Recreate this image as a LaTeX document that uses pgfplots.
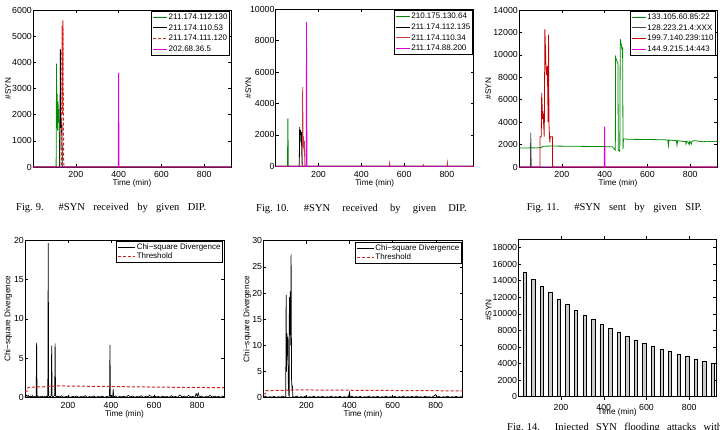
\documentclass[border=0pt]{standalone}
\usepackage{pgfplots}
\pgfplotsset{compat=1.18}
\usepackage{fontspec}
\setmainfont{Liberation Sans}
\newfontfamily\capfont{Liberation Serif}

\definecolor{mgreen}{RGB}{0,140,0}
\definecolor{mmag}{RGB}{220,0,220}
\definecolor{mred}{RGB}{220,30,30}
\definecolor{mbrick}{RGB}{200,60,60}
\definecolor{mdark}{RGB}{200,0,0}
\definecolor{mgray}{RGB}{70,70,70}

\pgfplotsset{
  mlab/.style={
    scale only axis, width=198pt, height=157pt,
    xmin=0, xmax=925, xtick={200,400,600,800},
    tick align=inside, major tick length=3pt,
    axis line style={line width=0.7pt},
    every tick/.style={black, line width=0.5pt},
    tick label style={font=\fontsize{8.8}{9}\selectfont},
    /pgf/number format/assume math mode=true,
    /pgf/number format/1000 sep={},
    scaled y ticks=false,
    xticklabel style={yshift=-1.2pt},
    yticklabel style={inner xsep=1pt},
    label style={font=\fontsize{8.2}{9}\selectfont},
    xlabel={Time (min)},
    clip=false,
    legend cell align=left,
    legend style={at={(1,1)}, anchor=north east, xshift=-1pt, yshift=-1pt,
      draw=black, line width=0.8pt, font=\fontsize{8}{9}\selectfont,
      inner xsep=1pt, inner ysep=1pt, row sep=1.2pt,
      nodes={inner sep=1pt, text height=6pt, text depth=1.5pt}},
    legend image code/.code={\draw[#1] (0pt,0pt) -- (14pt,0pt);},
  },
}
\tikzset{figcap/.style={anchor=base west, inner sep=0pt, font=\capfont\fontsize{10.5}{12}\selectfont}}

\begin{document}
\begin{tikzpicture}
\useasboundingbox (0pt,0pt) rectangle (720pt,-429pt);

% Fig. 9: SYN received by destination IP
\begin{axis}[mlab, at={(33pt,-10pt)}, anchor=north west,
  ymin=0, ymax=6000, ytick={0,1000,...,6000},
  ylabel={\#SYN},
  ylabel style={at={(axis description cs:-0.126,0.5)}, anchor=center},
  xlabel style={at={(axis description cs:0.5,-0.106)}, anchor=center}]
\addplot[mgreen, line width=0.8pt] coordinates {(0,0)(108,0)(110,3950)(111,1500)(113,2800)(115,1400)(117,2500)(119,1700)(121,2200)(123,1400)(125,0)(925,0)};
\addlegendentry{211.174.112.130}
\addplot[black, line width=0.8pt] coordinates {(0,0)(125,0)(128,4500)(130,1500)(132,1800)(134,1200)(135,1600)(137,0)(925,0)};
\addlegendentry{211.174.110.53}
\addplot[mred, line width=1pt, dash pattern=on 3pt off 2pt] coordinates {(0,0)(133,0)(136,5400)(138,2000)(140,5600)(142,1500)(144,0)(925,0)};
\addlegendentry{211.174.111.120}
\addplot[mmag, line width=0.8pt] coordinates {(0,0)(398,0)(400,3600)(402,0)(925,0)};
\addlegendentry{202.68.36.5}
\end{axis}

% Fig. 10
\begin{axis}[mlab, at={(275.7pt,-9.3pt)}, anchor=north west,
  ymin=0, ymax=10000, ytick={0,2000,...,10000},
  ylabel={\#SYN},
  ylabel style={at={(axis description cs:-0.139,0.5)}, anchor=center},
  xlabel style={at={(axis description cs:0.5,-0.106)}, anchor=center}]
\addplot[mgreen, line width=0.8pt] coordinates {(0,0)(55,0)(57,3050)(59,0)(925,0)};
\addlegendentry{210.175.130.64}
\addplot[black, line width=0.8pt] coordinates {(0,0)(110,0)(112,2500)(114,2000)(116,2300)(118,1500)(120,2200)(122,800)(124,0)(925,0)};
\addlegendentry{211.174.112.135}
\addplot[mbrick, line width=0.8pt] coordinates {(0,0)(124,0)(126,5050)(128,1200)(130,1900)(132,1000)(134,1600)(136,0)(530,0)(532,200)(534,0)(688,0)(690,90)(692,0)(800,0)(802,250)(804,0)(925,0)};
\addlegendentry{211.174.110.34}
\addplot[mmag, line width=0.8pt] coordinates {(0,0)(142,0)(144,9200)(146,0)(925,0)};
\addlegendentry{211.174.88.200}
\end{axis}

% Fig. 11: SYN sent by source IP
\begin{axis}[mlab, at={(519pt,-10pt)}, anchor=north west,
  ymin=0, ymax=14000, ytick={0,2000,...,14000},
  ylabel={\#SYN},
  ylabel style={at={(axis description cs:-0.155,0.5)}, anchor=center},
  xlabel style={at={(axis description cs:0.5,-0.106)}, anchor=center}]
\addplot[mgreen, line width=0.8pt] coordinates {(0,1700)(20,1690)(40,1700)(60,1710)(80,1700)(100,1720)(106,1750)(110,1850)(150,1870)(200,1860)(250,1850)(300,1840)(350,1830)(400,1820)(420,1800)(436,1810)(442,1700)(447,1550)(450,1500)(451,9800)(458,9400)(462,9300)(464,1500)(468,1450)(471,1400)(473,11400)(477,11000)(481,10500)(484,10600)(486,1600)(488,2500)(520,2470)(560,2460)(600,2450)(640,2440)(680,2430)(695,2400)(698,1900)(701,2400)(720,2380)(735,2350)(738,1950)(741,2350)(760,2300)(778,2250)(780,2050)(783,2300)(790,2200)(795,2000)(798,2300)(805,2050)(808,2300)(820,2350)(840,2300)(860,2250)(880,2300)(900,2250)(915,2300)(925,2280)};
\addlegendentry{133.105.60.85:22}
\addplot[mgray, line width=0.8pt] coordinates {(0,0)(53,0)(55,3050)(57,0)(925,0)};
\addlegendentry{128.223.21.4:XXX}
\addplot[mdark, line width=0.8pt] coordinates {(0,0)(98,0)(98.5,2700)(104,2700)(106,6600)(108,5500)(110,4300)(112,5000)(118,2700)(121,12300)(126,8900)(129,8200)(132,9000)(134,7000)(136,4000)(138,11800)(140,3800)(144,2200)(146,2700)(156,2700)(157,0)(925,0)};
\addlegendentry{199.7.140.239:110}
\addplot[mmag, line width=0.8pt] coordinates {(0,0)(398,0)(400,3600)(402,0)(925,0)};
\addlegendentry{144.9.215.14:443}
\end{axis}

% Chi-square divergence, DIP
\begin{axis}[mlab, at={(25pt,-240pt)}, anchor=north west, height=157.7pt, width=199pt,
  ymin=0, ymax=20, ytick={0,5,...,20},
  ylabel={Chi−square Divergence},
  ylabel style={at={(axis description cs:-0.084,0.5)}, anchor=center},
  xlabel style={at={(axis description cs:0.5,-0.103)}, anchor=center},
  legend style={row sep=0pt},
  legend image code/.code={\draw[#1] (0pt,0pt) -- (17pt,0pt);}]
\addplot[black, line width=0.7pt] coordinates {(0,0.1)(5,0.35)(10,0.15)(15,0.3)(20,0.05)(25,0.2)(30,0.1)(35,0.25)(40,0.05)(45,0.15)(50,0.1)(52,0.2)(54,7.0)(56,0.1)(60,0.2)(65,0.05)(70,0.15)(75,0.1)(80,0.2)(85,0.05)(90,0.15)(95,0.1)(100,0.2)(104,0.1)(106,0.3)(108,19.6)(110,0.2)(115,0.1)(120,0.2)(122,0.3)(124,6.6)(126,0.2)(130,0.1)(135,0.25)(138,0.3)(140,6.9)(142,0.3)(145,0.1)(150,0.2)(160,0.1)(170,0.25)(180,0.05)(190,0.15)(200,0.2)(210,0.05)(220,0.15)(230,0.1)(240,0.2)(250,0.05)(260,0.15)(270,0.1)(280,0.25)(290,0.05)(300,0.15)(310,0.1)(320,0.2)(330,0.05)(340,0.15)(350,0.1)(360,0.2)(370,0.05)(380,0.15)(390,0.1)(393,0.3)(395,6.7)(397,0.2)(405,0.1)(408,0.2)(410,1.1)(412,0.1)(420,0.2)(430,0.05)(440,0.15)(450,0.1)(460,0.2)(470,0.05)(480,0.3)(490,0.1)(500,0.2)(510,0.05)(520,0.15)(530,0.1)(540,0.25)(550,0.05)(560,0.15)(570,0.1)(580,0.3)(590,0.05)(600,0.2)(610,0.1)(620,0.15)(630,0.05)(640,0.2)(650,0.1)(660,0.15)(670,0.05)(680,0.25)(690,0.1)(700,0.15)(710,0.05)(720,0.35)(730,0.1)(740,0.2)(750,0.05)(760,0.3)(770,0.1)(780,0.15)(790,0.05)(795,0.5)(800,0.2)(805,0.6)(810,0.1)(820,0.2)(830,0.05)(840,0.15)(850,0.1)(860,0.3)(870,0.05)(880,0.2)(890,0.1)(900,0.15)(910,0.05)(920,0.2)(925,0.1)};
\addlegendentry{Chi−square Divergence}
\addplot[mred, line width=1pt, dash pattern=on 3pt off 2pt] coordinates {(0,0.8)(12,0.85)(14,1.3)(50,1.35)(100,1.4)(150,1.5)(200,1.48)(300,1.45)(400,1.42)(500,1.38)(600,1.35)(700,1.32)(800,1.3)(925,1.28)};
\addlegendentry{Threshold}
\end{axis}

% Chi-square divergence, SIP
\begin{axis}[mlab, at={(263.3pt,-240.7pt)}, anchor=north west, height=157pt, width=199.4pt,
  ymin=0, ymax=30, ytick={0,5,...,30},
  ylabel={Chi−square Divergence},
  ylabel style={at={(axis description cs:-0.08,0.5)}, anchor=center},
  xlabel style={at={(axis description cs:0.5,-0.103)}, anchor=center},
  legend style={row sep=0pt},
  legend image code/.code={\draw[#1] (0pt,0pt) -- (17pt,0pt);}]
\addplot[black, line width=0.7pt] coordinates {(0,0.1)(10,0.3)(20,0.05)(30,0.2)(40,0.1)(50,0.25)(60,0.05)(70,0.2)(80,0.1)(90,0.3)(100,0.1)(104,0.2)(106,19.6)(108,5)(110,12.3)(112,8)(114,11.6)(116,3)(118,0.5)(120,0.3)(121,19.2)(123,12)(125,20.3)(127,10)(129,27.5)(131,3.5)(133,2)(135,2.2)(137,0.2)(145,0.1)(155,0.3)(165,0.05)(175,0.2)(185,0.1)(195,0.25)(205,0.05)(215,0.2)(225,0.1)(235,0.3)(245,0.05)(255,0.2)(265,0.1)(275,0.25)(285,0.05)(295,0.2)(305,0.1)(315,0.3)(325,0.05)(335,0.2)(345,0.1)(355,0.25)(365,0.05)(375,0.2)(385,0.1)(395,0.2)(400,1.0)(402,0.1)(410,0.3)(420,0.05)(430,0.2)(440,0.1)(450,0.25)(460,0.05)(470,0.2)(480,0.1)(490,0.3)(500,0.05)(510,0.2)(520,0.1)(530,0.25)(540,0.05)(550,0.2)(560,0.1)(570,0.3)(580,0.05)(590,0.2)(600,0.1)(610,0.25)(620,0.05)(630,0.2)(640,0.1)(650,0.3)(660,0.05)(670,0.2)(680,0.1)(690,0.25)(700,0.05)(710,0.3)(720,0.1)(730,0.2)(740,0.05)(750,0.3)(760,0.1)(770,0.2)(780,0.05)(790,0.3)(800,0.6)(805,0.1)(815,0.25)(825,0.05)(835,0.2)(845,0.1)(855,0.3)(865,0.05)(875,0.2)(885,0.1)(895,0.25)(905,0.05)(915,0.2)(925,0.1)};
\addlegendentry{Chi−square Divergence}
\addplot[mred, line width=1pt, dash pattern=on 3pt off 2pt] coordinates {(0,0.7)(10,0.75)(12,1.35)(50,1.38)(100,1.42)(150,1.5)(300,1.45)(500,1.4)(700,1.36)(925,1.3)};
\addlegendentry{Threshold}
\end{axis}

% Fig. 14: injected SYN flooding attacks
\begin{axis}[mlab, at={(518.3pt,-239.3pt)}, anchor=north west, height=157.4pt, width=197.7pt,
  ymin=0, ymax=19000, ytick={0,2000,...,18000},
  ylabel={\#SYN},
  ylabel style={at={(axis description cs:-0.15,0.55)}, anchor=center},
  xlabel style={at={(axis description cs:0.5,-0.099)}, anchor=center},
  ybar, bar width=3.4pt]
\addplot[draw=black, fill=black!20, line width=0.6pt] coordinates {(30,15000)(70,14150)(110,13350)(150,12550)(190,11800)(230,11100)(270,10450)(310,9850)(350,9300)(390,8750)(430,8250)(470,7750)(510,7300)(550,6850)(590,6450)(630,6100)(670,5750)(710,5450)(750,5100)(790,4850)(830,4550)(870,4300)(910,4050)};
\end{axis}

% captions, justified to their column width
\node[figcap] at (16pt,-210.7pt) {\makebox[190pt][s]{Fig.\kern3pt9.\hspace{15pt}\#SYN received by given DIP.}};
\node[figcap] at (256pt,-211pt) {\makebox[210.5pt][s]{Fig.\kern3pt10.\hspace{15pt}\#SYN received by given DIP.}};
\node[figcap] at (526.7pt,-210pt) {\makebox[175pt][s]{Fig.\kern3pt11.\hspace{15pt}\#SYN sent by given SIP.}};
\node[figcap] at (507pt,-430pt) {\makebox[215pt][s]{Fig.\kern3pt14.\hspace{15pt}Injected SYN flooding attacks with}};
\end{tikzpicture}
\end{document}
